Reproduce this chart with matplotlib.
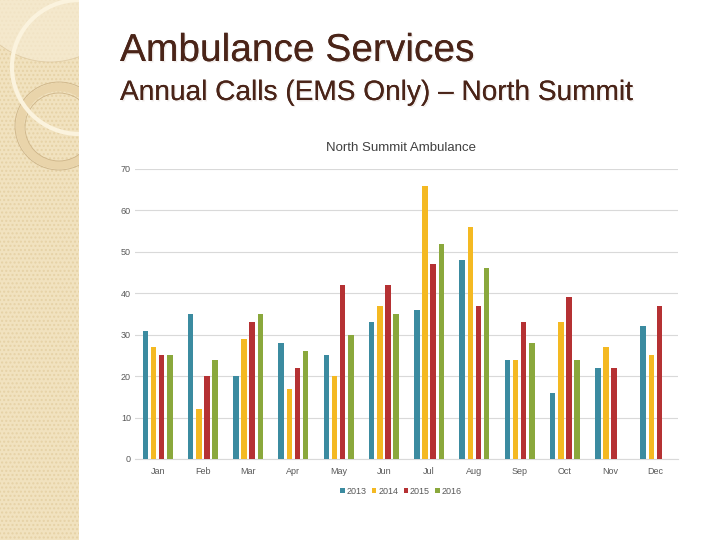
import matplotlib.pyplot as plt
import matplotlib.patches as mpatches
import matplotlib.patheffects as pe
import numpy as np

# North Summit ambulance calls by month, EMS only
months = ['Jan', 'Feb', 'Mar', 'Apr', 'May', 'Jun',
          'Jul', 'Aug', 'Sep', 'Oct', 'Nov', 'Dec']
years = ['2013', '2014', '2015', '2016']
calls_2013 = [31, 35, 20, 28, 25, 33, 36, 48, 24, 16, 22, 32]
calls_2014 = [27, 12, 29, 17, 20, 37, 66, 56, 24, 33, 27, 25]
calls_2015 = [25, 20, 33, 22, 42, 42, 47, 37, 33, 39, 22, 37]
calls_2016 = [25, 24, 35, 26, 30, 35, 52, 46, 28, 24, np.nan, np.nan]
colors = ['#3B8BA0', '#F4B922', '#B53133', '#8AA83C']

plt.rcParams['font.family'] = ['Liberation Sans', 'DejaVu Sans']

fig = plt.figure(figsize=(7.2, 5.4), dpi=100)

# decorative side panel
deco = fig.add_axes([0, 0, 79 / 720, 1], zorder=1)
deco.set_xlim(0, 79)
deco.set_ylim(540, 0)
deco.set_xticks([])
deco.set_yticks([])
for s in deco.spines.values():
    s.set_visible(False)
deco.set_facecolor('#F1E2BF')
deco.add_patch(mpatches.Rectangle((0, 0), 79, 540, facecolor='none', edgecolor='#E6D2A6',
                                  hatch='....', linewidth=0))
deco.add_patch(mpatches.Circle((50, -20), 82, facecolor='#F6EBD2', edgecolor='#D9C39A', lw=0.6, alpha=0.7))
deco.add_patch(mpatches.Circle((59, 126), 39, facecolor='none', edgecolor='#E9D4AA', lw=6))
deco.add_patch(mpatches.Circle((59, 126), 44, facecolor='none', edgecolor='#CDB488', lw=0.6))
deco.add_patch(mpatches.Circle((59, 127), 34, facecolor='none', edgecolor='#CDB488', lw=0.6))
deco.add_patch(mpatches.Circle((79, 67), 67, facecolor='none', edgecolor='#FBF3DE', lw=3.0))

# slide titles
shadow = [pe.withSimplePatchShadow(offset=(1, -1), shadow_rgbFace='#E2DAD6', alpha=0.5), pe.Normal()]
fig.text(120 / 720, 1 - 51 / 540, 'Ambulance Services', fontsize=28, color='#4A2418', va='center',
         path_effects=shadow)
fig.text(120 / 720, 1 - 93 / 540, 'Annual Calls (EMS Only) \u2013 North Summit', fontsize=20.2,
         color='#4A2418', va='center', path_effects=shadow)
fig.text(401 / 720, 1 - 148 / 540, 'North Summit Ambulance', fontsize=9.5, color='#404040',
         ha='center', va='center')

ax = fig.add_axes([135 / 720, 1 - 459 / 540, 543 / 720, 290 / 540])
x = np.arange(len(months))
width = 0.12
step = 0.18
series = [calls_2013, calls_2014, calls_2015, calls_2016]
for i, (vals, year, c) in enumerate(zip(series, years, colors)):
    ax.bar(x + (i - 1.5) * step, vals, width, color=c, label=year, zorder=3)

ax.set_xlim(-0.5, len(months) - 0.5)
ax.set_ylim(0, 70)
ax.set_yticks(range(0, 71, 10))
ax.set_xticks(x)
ax.set_xticklabels(months)
ax.grid(axis='y', color='#D9D9D9', linewidth=0.8, zorder=0)
for side in ['top', 'right', 'left']:
    ax.spines[side].set_visible(False)
ax.spines['bottom'].set_color('#D9D9D9')
ax.tick_params(length=0, labelsize=6.5, labelcolor='#595959')
ax.tick_params(axis='y', pad=3)
ax.tick_params(axis='x', pad=6)

ax.legend(loc='upper center', bbox_to_anchor=(0.49, -0.068), ncol=4, frameon=False,
          fontsize=6.5, labelcolor='#595959', handlelength=0.5, handleheight=0.5,
          handletextpad=0.2, columnspacing=0.6)

fig.savefig('out.png', dpi=100)
